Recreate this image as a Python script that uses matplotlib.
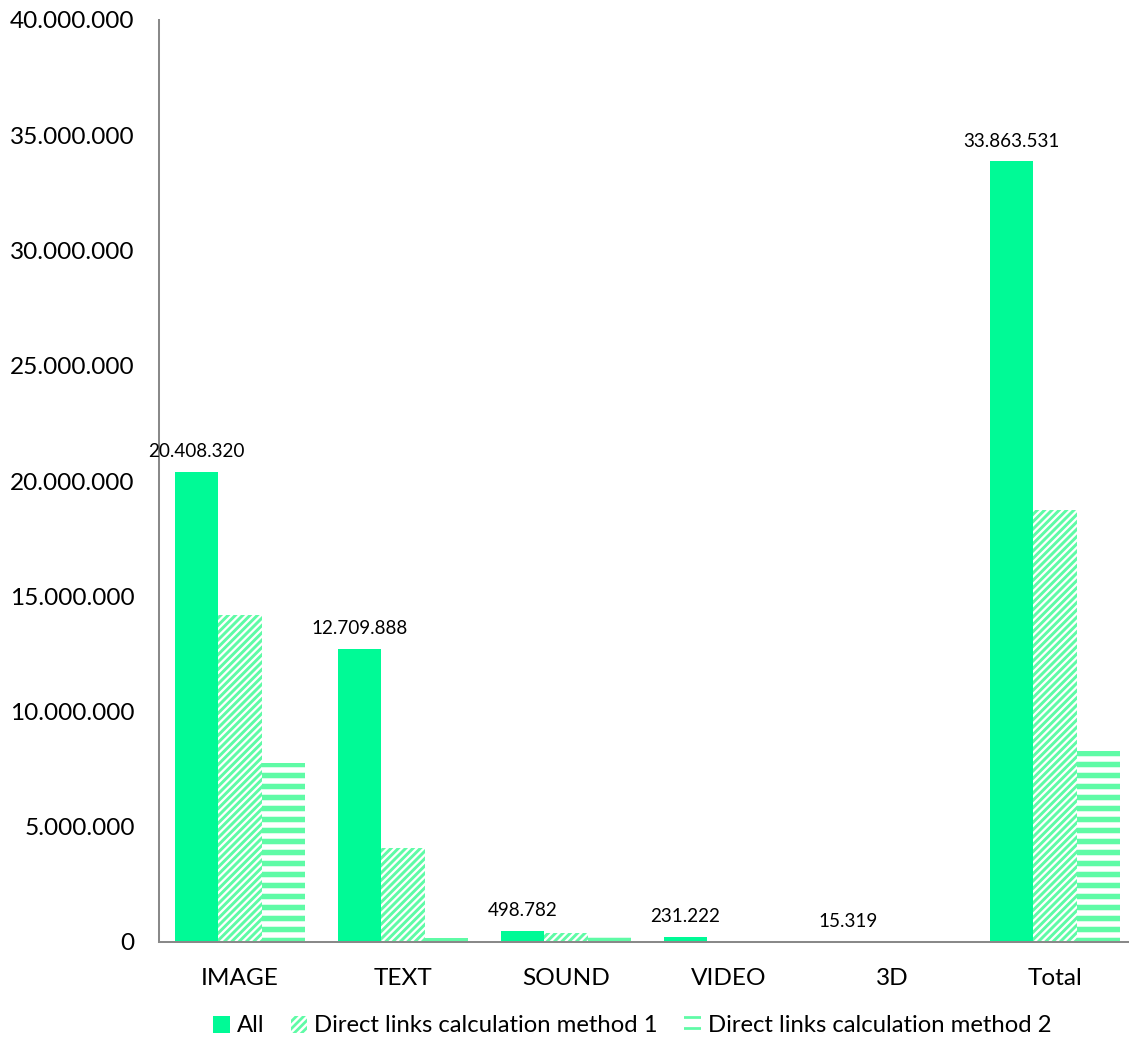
import matplotlib
matplotlib.use("Agg")
import matplotlib.pyplot as plt
import numpy as np

categories = ["IMAGE", "TEXT", "SOUND", "VIDEO", "3D", "Total"]
series_names = ["All", "Direct links calculation method 1", "Direct links calculation method 2"]
all_vals = [20408320, 12709888, 498782, 231222, 15319, 33863531]
method1_vals = [14190000, 4060000, 380000, 30000, 2000, 18730000]
method2_vals = [7770000, 170000, 310000, 5000, 500, 8300000]
y_ticks = [0, 5000000, 10000000, 15000000, 20000000, 25000000, 30000000, 35000000, 40000000]


def fmt(v):
    return f"{int(round(v)):,}".replace(",", ".")


DPI = 132
W, H = 1129, 1048
plt.rcParams['font.family'] = ['Lato', 'DejaVu Sans']
plt.rcParams['hatch.linewidth'] = 1.5

fig = plt.figure(figsize=(W / DPI, H / DPI), dpi=DPI)
ax = fig.add_axes([158.5 / W, 106 / H, 978 / W, 922 / H])

solid = '#00FA96'
light = '#5FFBA6'
x = np.arange(len(categories))
bw = 0.8 / 3

b0 = ax.bar(x - bw, all_vals, bw, color=solid, edgecolor='none', label=series_names[0])
b1 = ax.bar(x, method1_vals, bw, facecolor='white', edgecolor=light, hatch='//////',
            linewidth=0, label=series_names[1])
b2 = ax.bar(x + bw, method2_vals, bw, facecolor='white', edgecolor=light, hatch='--',
            linewidth=0, label=series_names[2])
for p in b1:
    if hasattr(p, 'set_hatch_linewidth'):
        p.set_hatch_linewidth(1.6)
for p in b2:
    if hasattr(p, 'set_hatch_linewidth'):
        p.set_hatch_linewidth(3.0)

for xi, v in zip(x, all_vals):
    ax.annotate(fmt(v), (xi - bw, v), xytext=(0, 6.5), textcoords='offset points',
                ha='center', va='bottom', fontsize=10.3, color='#000000')

ax.set_xlim(-0.5, len(categories) - 0.5)
ax.set_ylim(0, 40000000)
ax.set_yticks(y_ticks)
ax.set_yticklabels([fmt(t) for t in y_ticks])
ax.set_xticks(x)
ax.set_xticklabels(categories)
ax.tick_params(axis='both', length=0, labelsize=13.3, colors='#000000')
ax.tick_params(axis='y', pad=13)
ax.tick_params(axis='x', pad=14)
for s in ['top', 'right']:
    ax.spines[s].set_visible(False)
for s in ['left', 'bottom']:
    ax.spines[s].set_color('#898989')
    ax.spines[s].set_linewidth(1.1)

fig.legend(handles=[b0, b1, b2], loc='center', bbox_to_anchor=(0.56, 22 / H),
           ncol=3, frameon=False, fontsize=13, handlelength=0.7, handleheight=0.7,
           handletextpad=0.3, columnspacing=1.1)

fig.savefig("out.png", dpi=DPI)
